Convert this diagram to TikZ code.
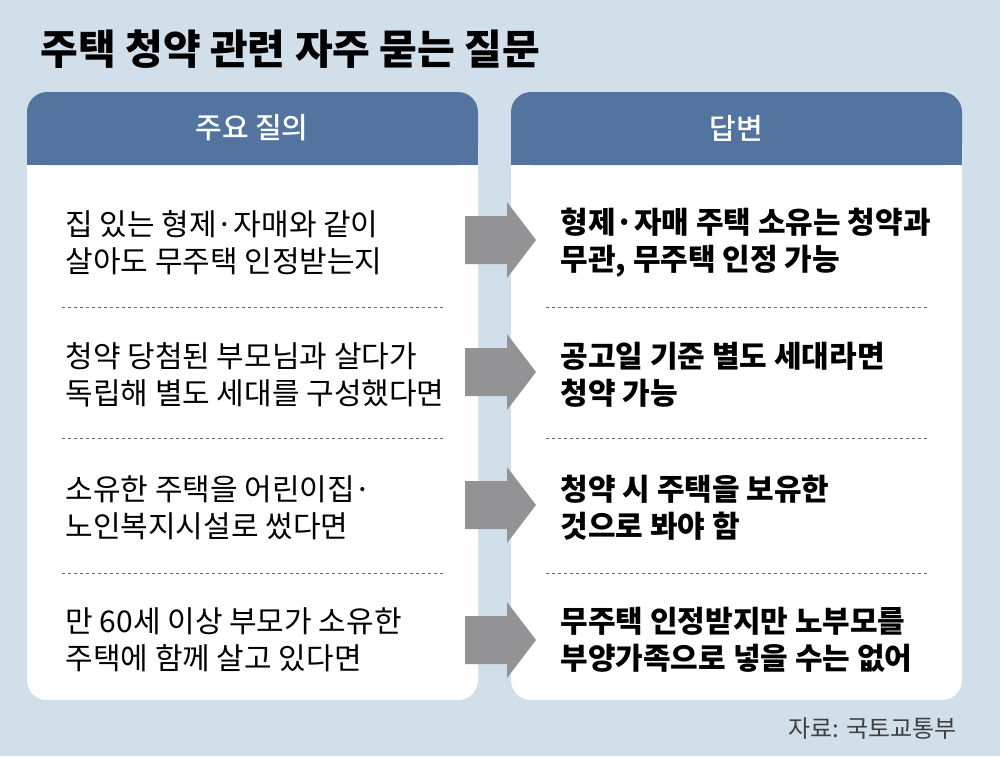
\documentclass[tikz,border=0pt]{standalone}
\usepackage{fontspec}
\setmainfont{Noto Sans CJK KR}
\newfontfamily\krmed{Noto Sans CJK KR Medium}
\definecolor{bg}{HTML}{D0DFE9}
\definecolor{hd}{HTML}{52749F}
\definecolor{ar}{HTML}{939396}
\begin{document}
\begin{tikzpicture}[x=1pt,y=-1pt,
  panel/.style={fill=white,rounded corners=20},
  head/.style={fill=hd,rounded corners=20},
  htext/.style={text=white,font=\fontsize{29}{34}\krmed},
  qtext/.style={anchor=west,align=left,font=\fontsize{30}{37}\selectfont},
  atext/.style={anchor=west,align=left,font=\fontsize{30}{37}\selectfont\bfseries},
  sep/.style={dash pattern=on 3pt off 3pt,line width=1pt,draw=black!60},
  arrowshape/.style={fill=ar}]
\fill[bg] (0,0) rectangle (1000,756);
\useasboundingbox (0,0) rectangle (1000,756);
\node[anchor=west,font=\fontsize{41}{46}\selectfont\bfseries] (title) at (37,49) {주택 청약 관련 자주 묻는 질문};
\fill[panel] (27,92) rectangle (478,700);
\fill[panel] (511,92) rectangle (962,700);
\fill[head] (27,92) rectangle (478,165);
\fill[hd] (27,140) rectangle (478,165);
\fill[head] (511,92) rectangle (962,165);
\fill[hd] (511,140) rectangle (962,165);
\node[htext] (h1) at (252,128) {주요 질의};
\node[htext] (h2) at (736,128) {답변};
\foreach \y in {307,438,573}{
  \draw[sep] (62,\y) -- (443,\y);
  \draw[sep] (546,\y) -- (929,\y);
}
\foreach \y in {240,372,505,640}{
  \fill[arrowshape] (465,\y-24) -- (507,\y-24) -- (507,\y-38) -- (536,\y) -- (507,\y+38) -- (507,\y+24) -- (465,\y+24) -- cycle;
}
\node[qtext] (q1) at (62,243) {집 있는 형제·자매와 같이\\살아도 무주택 인정받는지};
\node[qtext] (q2) at (62,375) {청약 당첨된 부모님과 살다가\\독립해 별도 세대를 구성했다면};
\node[qtext] (q3) at (62,508) {소유한 주택을 어린이집·\\노인복지시설로 썼다면};
\node[qtext] (q4) at (62,640) {만 60세 이상 부모가 소유한\\주택에 함께 살고 있다면};
\node[atext] (a1) at (557,243) {형제·자매 주택 소유는 청약과\\무관, 무주택 인정 가능};
\node[atext] (a2) at (557,375) {공고일 기준 별도 세대라면\\청약 가능};
\node[atext] (a3) at (557,508) {청약 시 주택을 보유한\\것으로 봐야 함};
\node[atext] (a4) at (557,640) {무주택 인정받지만 노부모를\\부양가족으로 넣을 수는 없어};
\node[anchor=east,font=\fontsize{24}{28}\selectfont,text=black!75] (src) at (960,728) {자료: 국토교통부};
\end{tikzpicture}
\end{document}
